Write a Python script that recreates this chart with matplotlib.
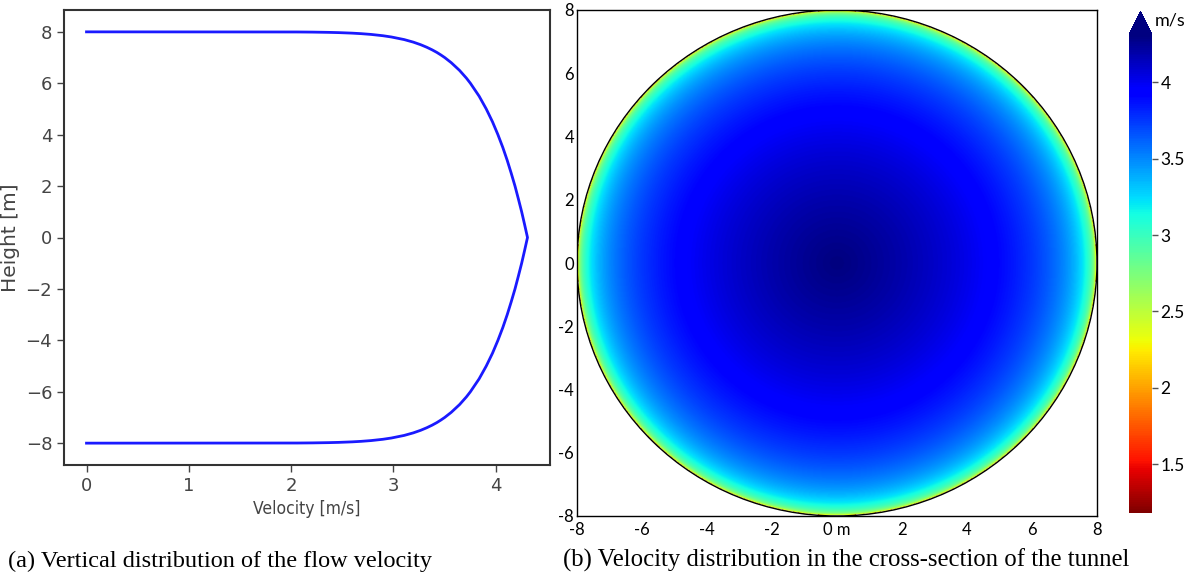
import numpy as np
import matplotlib
matplotlib.use("Agg")
import matplotlib.pyplot as plt
from matplotlib.patches import Circle
from matplotlib.colors import Normalize
from matplotlib.cm import ScalarMappable

# Vertical velocity profile  (height [m], velocity [m/s])
height_m = [8.0, 7.995, 7.99, 7.98, 7.97, 7.95, 7.93, 7.9, 7.85, 7.8, 7.7, 7.6, 7.5,
            7.4, 7.3, 7.2, 7.1, 7.0, 6.8, 6.5, 6.2, 6.0, 5.5, 5.0, 4.5, 4.0, 3.5, 3.0,
            2.5, 2.0, 1.5, 1.0, 0.5, 0.0,
            -0.5, -1.0, -1.5, -2.0, -2.5, -3.0, -3.5, -4.0, -4.5, -5.0, -5.5, -6.0,
            -6.2, -6.5, -6.8, -7.0, -7.1, -7.2, -7.3, -7.4, -7.5, -7.6, -7.7, -7.8,
            -7.85, -7.9, -7.93, -7.95, -7.97, -7.98, -7.99, -7.995, -8.0]
velocity_ms = [0.0, 2.061, 2.209, 2.367, 2.465, 2.595, 2.683, 2.781, 2.896, 2.980, 3.104,
               3.194, 3.266, 3.326, 3.378, 3.424, 3.464, 3.501, 3.565, 3.646, 3.713, 3.752,
               3.837, 3.907, 3.968, 4.021, 4.069, 4.112, 4.151, 4.188, 4.221, 4.253, 4.282,
               4.310,
               4.282, 4.253, 4.221, 4.188, 4.151, 4.112, 4.069, 4.021, 3.968, 3.907, 3.837,
               3.752, 3.713, 3.646, 3.565, 3.501, 3.464, 3.424, 3.378, 3.326, 3.266, 3.194,
               3.104, 2.980, 2.896, 2.781, 2.683, 2.595, 2.465, 2.367, 2.209, 2.061, 0.0]

left_xticks = [0, 1, 2, 3, 4]
left_yticks = [-8, -6, -4, -2, 0, 2, 4, 6, 8]
right_ticks = [-8, -6, -4, -2, 0, 2, 4, 6, 8]
right_xticklabels = ["-8", "-6", "-4", "-2", "0 m", "2", "4", "6", "8"]
right_yticklabels = ["-8", "-6", "-4", "-2", "0", "2", "4", "6", "8"]
cbar_ticks = [1.5, 2, 2.5, 3, 3.5, 4]
cbar_ticklabels = ["1.5", "2", "2.5", "3", "3.5", "4"]
vmin_ms, vmax_ms = 1.18, 4.31
tunnel_radius = 8.0

caption_a = "(a) Vertical distribution of the flow velocity"
caption_b = "(b) Velocity distribution in the cross-section of the tunnel"

fig = plt.figure(figsize=(11.95, 5.76), dpi=100)

# ---- panel (a)
ax1 = fig.add_axes([64/1195, 1-465/576, (550-64)/1195, (465-10)/576])
ax1.plot(velocity_ms, height_m, color="#1a1aff", lw=2, solid_joinstyle="round")
ax1.set_xlim(-0.22, 4.53)
ax1.set_ylim(-8.85, 8.85)
ax1.set_xticks(left_xticks)
ax1.set_yticks(left_yticks)
ax1.set_yticklabels([str(v).replace("-", "\u2212") for v in left_yticks])
gray = "#444444"
for s in ax1.spines.values():
    s.set_color("#333333")
    s.set_linewidth(1.5)
ax1.tick_params(colors=gray, labelcolor=gray, length=5, width=1, labelsize=13)
ax1.set_xlabel("Velocity [m/s]", fontsize=12.5, color=gray, fontstretch="condensed",
               labelpad=4)
ax1.set_ylabel("Height [m]", fontsize=14.5, color=gray, labelpad=4)

# ---- panel (b)
ax2 = fig.add_axes([577/1195, 1-516/576, (1097-577)/1195, (516-10)/576])
n = 700
g = np.linspace(-tunnel_radius, tunnel_radius, n)
X, Y = np.meshgrid(g, g)
R = np.hypot(X, Y)
r_prof = np.array(height_m[:34][::-1])
v_prof = np.array(velocity_ms[:34][::-1])
U = np.interp(R, r_prof, v_prof)
U = np.ma.masked_where(R > tunnel_radius, U)
cmap = plt.get_cmap("jet_r").copy()
cmap.set_bad((1, 1, 1, 0))
norm = Normalize(vmin=vmin_ms, vmax=vmax_ms)
ax2.imshow(U, cmap=cmap, norm=norm, extent=[-8, 8, -8, 8], origin="lower",
           interpolation="bilinear", aspect="auto")
ax2.add_patch(Circle((0, 0), tunnel_radius, fill=False, ec="black", lw=1))
ax2.set_xlim(-8, 8)
ax2.set_ylim(-8, 8)
ax2.set_xticks(right_ticks)
ax2.set_xticklabels(right_xticklabels)
ax2.set_yticks(right_ticks)
ax2.set_yticklabels(right_yticklabels)
ax2.tick_params(axis="x", length=0, labelsize=12, pad=4)
ax2.tick_params(axis="y", length=0, labelsize=12, pad=2)
for lab in ax2.get_xticklabels() + ax2.get_yticklabels():
    lab.set_family("Lato")
ax2.get_yticklabels()[0].set_verticalalignment("center_baseline")
for s in ax2.spines.values():
    s.set_linewidth(1)

# ---- colorbar
cax = fig.add_axes([1129/1195, 1-513/576, 23/1195, (513-11)/576])
sm = ScalarMappable(norm=norm, cmap=plt.get_cmap("jet_r"))
cb = fig.colorbar(sm, cax=cax, extend="max", ticks=cbar_ticks)
cb.outline.set_visible(False)
cb.ax.set_yticklabels(cbar_ticklabels)
cb.ax.tick_params(length=4, width=1, labelsize=12.5, pad=2, color="#555555")
for lab in cb.ax.get_yticklabels():
    lab.set_family("Lato")
fig.text(1155/1195, 1-21/576, "m/s", fontsize=13, family="Lato", ha="left", va="center")

# ---- captions
fig.text(8/1195, 1-567/576, caption_a, fontsize=17.5, family="Liberation Serif",
         ha="left", va="baseline")
fig.text(563/1195, 1-567/576, caption_b, fontsize=17.8, family="Liberation Serif",
         ha="left", va="baseline")

fig.savefig("out.png", dpi=100)
